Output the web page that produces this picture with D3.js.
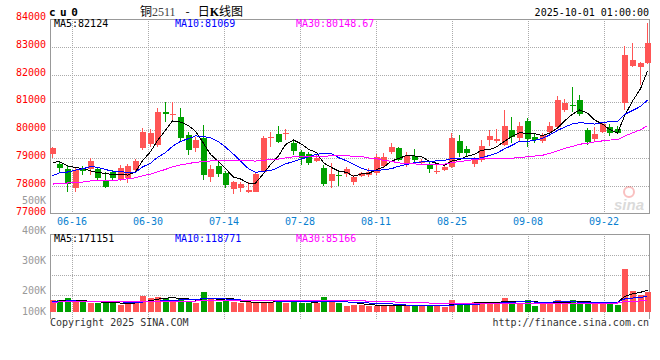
<!DOCTYPE html>
<html>
<head>
<meta charset="utf-8">
<script src="https://cdn.jsdelivr.net/npm/d3@7"></script>
<style>
body{margin:0;background:#fff}
svg text{font-family:"DejaVu Sans Mono",monospace;font-size:10px}
</style>
</head>
<body>
<svg id="chart" width="660" height="360"></svg>
<script>
// cu2511 daily bars, 2025-06-11 .. 2025-09-30
const open  = [79130,78770,78600,77900,78630,78600,78600,78170,78510,78210,78270,78570,79350,79500,79470,80670,80550,80470,79830,79350,
               79730,78330,78720,78450,77880,77910,77790,77790,78510,79740,79850,79860,79550,79230,79130,78890,78650,78170,78390,78410,
               78140,78360,78380,78470,78710,79200,79340,78780,79070,78800,78740,78500,78560,78680,79620,79310,78780,78920,79640,79620,
               79460,80000,79700,80330,79740,79620,79940,80120,80720,80900,81080,80000,79670,79940,80100,80030,80990,82310,82280,82400]
const high  = [79400,78870,78750,78650,78720,78990,78690,78480,78570,78750,78770,78960,80090,80030,80790,81000,81000,80790,79950,79770,
               80190,78750,78870,78530,78170,78120,78120,78510,79800,79920,80150,80030,79620,79290,79200,79110,78750,78810,78480,78690,
               78380,78500,78620,79140,79160,79550,79400,79220,79310,78950,78860,78740,78740,79880,79820,79430,79020,79640,80000,80030,
               80720,80460,80300,80450,79910,79910,80300,81230,81110,81540,81260,80060,80100,80300,80220,80150,83030,83150,82460,83870]
const low   = [78990,78500,77790,77790,78390,78390,78210,77900,78210,78170,78090,78530,79290,79410,79410,80310,80310,79590,79110,79230,
               78210,78150,78330,77910,77690,77790,77730,77760,78480,79410,79530,79650,79110,78750,78750,78870,78000,77910,78000,78330,
               78020,78300,78300,78380,78660,79140,78900,78680,78860,78740,78470,78420,78540,78620,79040,79070,78660,78860,79430,79550,
               79430,79550,79620,79400,79550,79550,79880,80060,80660,80660,80510,79460,79580,79910,79790,79860,80720,82280,81620,82380]
const close = [79350,78630,78050,78570,78530,78890,78290,77970,78290,78650,78710,78890,79950,79910,80670,80570,80570,79730,79290,79650,
               78390,78600,78410,78030,78120,78050,77850,78420,79730,79770,79590,79890,79250,78990,78830,79010,78050,78410,78340,78600,
               78300,78470,78500,79020,79040,79400,78920,79070,78920,78900,78600,78540,78680,79700,79190,79160,78920,79430,79790,79690,
               80150,79760,80150,79670,79640,79820,80150,81080,80960,80870,80570,79580,79860,80210,79910,79880,82700,82520,82430,83150]
const volume = [88000,88000,106000,74000,74000,70000,70000,70000,74000,54000,62000,80000,128000,106000,114000,106000,96000,106000,80000,66000,
                160000,106000,80000,88000,74000,66000,74000,74000,80000,80000,88000,70000,88000,70000,70000,70000,114000,80000,70000,48000,
                56000,56000,48000,48000,48000,48000,48000,48000,48000,48000,48000,48000,40000,88000,70000,64000,80000,70000,80000,64000,
                106000,80000,70000,96000,48000,64000,70000,96000,70000,88000,60000,80000,70000,70000,70000,56000,340000,168000,134000,155000]
// earlier sessions, only used to start the moving averages (estimated from the MA lines at the left edge)
const prevClose = [77600,77850,78100,77950,77700,77900,78150,78050,77800,77760,
                   77700,77900,78050,78200,77950,77800,77650,77900,78050,78030,
                   77600,77750,77900,78050,78100,78500,78800,78900,78650]
const prevVolume = [72000,68000,80000,75000,70000,66000,78000,74000,71000,69000,
                    77000,73000,70000,75000,68000,72000,76000,70000,74000,79000,
                    76000,82000,78000,74000,80000,86000,82000,78000,84000]

const tickLabels = ["06-16","06-30","07-14","07-28","08-11","08-25","09-08","09-22"]
const priceTicks = [84000,83000,82000,81000,80000,79000,78000,77000]
const volTicks = [500000,400000,300000,200000,100000]
const priceMA = ["82124","81069","80148.67"]
const volMA = ["171151","118771","85166"]
const maNames = ["MA5","MA10","MA30"]
const maDays = [5,10,30]
const maColors = ["#000","#0000ff","#ff00ff"]

const days = d3.utcDays(new Date(Date.UTC(2025,5,11)), new Date(Date.UTC(2025,9,1)))
	.filter(d => d.getUTCDay()%6!==0)

const left = 50, right = 649
const pTop = 19, pBot = 213.5
const vTop = 234, vBot = 311.5, vFrameBot = 319
const up = "#ff5555", down = "#00a000", gridC = "#aaa", frameC = "#999"

const svg = d3.select("#chart")

const x = d3.scaleBand().domain(d3.range(days.length)).range([left-1, right+1]).paddingInner(0.22)
const cx = i => Math.round(x(i)+x.bandwidth()/2)
const y = d3.scaleLinear().domain([77000,84000]).range([pBot,pTop])
const yv = d3.scaleLinear().domain([0,620000]).range([vBot,vTop])
const yvLabel = d3.scaleLinear().domain([100000,500000]).range([323.5,203.5])
const gx = d3.scalePoint().domain(tickLabels).range([left+22, left+22+76*(tickLabels.length-1)])

function ma(series, prev, n){
	const all = prev.concat(series)
	return series.map((_, i)=> d3.mean(all.slice(i+prev.length-n+1, i+prev.length+1)))
}

// grid
const grid = svg.append("g").attr("stroke", gridC).attr("stroke-dasharray", "1,1").attr("shape-rendering","crispEdges")
grid.selectAll(".gv").data(tickLabels).join("line")
	.attr("x1", d=>Math.round(gx(d))+0.5).attr("x2", d=>Math.round(gx(d))+0.5)
	.attr("y1", pTop).attr("y2", pBot)
grid.selectAll(".gv2").data(tickLabels).join("line")
	.attr("x1", d=>Math.round(gx(d))+0.5).attr("x2", d=>Math.round(gx(d))+0.5)
	.attr("y1", vTop).attr("y2", vFrameBot)
grid.selectAll(".gh").data(priceTicks.slice(1,-1)).join("line")
	.attr("x1", left).attr("x2", right)
	.attr("y1", d=>Math.round(y(d))+0.5).attr("y2", d=>Math.round(y(d))+0.5)
grid.selectAll(".gh2").data([1,2,3]).join("line")
	.attr("x1", left).attr("x2", right)
	.attr("y1", d=>vTop+1.5+d*20).attr("y2", d=>vTop+1.5+d*20)

// frames
const frame = svg.append("g").attr("stroke", frameC).attr("fill","none").attr("shape-rendering","crispEdges")
frame.append("path").attr("d", `M${left+0.5},${pTop}V${pBot}H${right+0.5}V${pTop}H${left+0.5}`)
frame.append("path").attr("d", `M${left+0.5},${vFrameBot}V${vTop+0.5}H${right+0.5}V${vFrameBot}`)

// candles
const candles = svg.append("g").attr("shape-rendering","crispEdges")
candles.selectAll(".wick").data(days).join("rect")
	.attr("x", (d,i)=>cx(i)).attr("width", 1)
	.attr("y", (d,i)=>Math.round(y(high[i]))).attr("height", (d,i)=>Math.max(1, Math.round(y(low[i]))-Math.round(y(high[i]))))
	.attr("fill", (d,i)=>close[i]>=open[i]?up:down)
candles.selectAll(".body").data(days).join("rect")
	.attr("x", (d,i)=>cx(i)-2).attr("width", 6)
	.attr("y", (d,i)=>Math.round(y(Math.max(open[i],close[i]))))
	.attr("height", (d,i)=>Math.max(1, Math.round(y(Math.min(open[i],close[i])))-Math.round(y(Math.max(open[i],close[i])))))
	.attr("fill", (d,i)=>close[i]>=open[i]?up:down)

// volume bars
svg.append("g").attr("shape-rendering","crispEdges")
	.selectAll("rect").data(days).join("rect")
	.attr("x", (d,i)=>cx(i)-2).attr("width", 6)
	.attr("y", (d,i)=>Math.round(yv(volume[i])))
	.attr("height", (d,i)=>vBot-Math.round(yv(volume[i])))
	.attr("fill", (d,i)=>close[i]>=open[i]?up:down)

// moving averages
maDays.forEach((n, k)=>{
	const pm = ma(close, prevClose, n)
	const vm = ma(volume, prevVolume, n)
	svg.append("path").datum(pm)
		.attr("d", d3.line().x((d,i)=>cx(i)+0.5).y(d=>y(d)))
		.attr("fill","none").attr("stroke", maColors[k]).attr("stroke-width",1).attr("shape-rendering","crispEdges")
	svg.append("path").datum(vm)
		.attr("d", d3.line().x((d,i)=>cx(i)+0.5).y(d=>yv(d)))
		.attr("fill","none").attr("stroke", maColors[k]).attr("stroke-width",1).attr("shape-rendering","crispEdges")
	svg.append("text").attr("x", left+4+121*k).attr("y", 27).attr("fill", maColors[k])
		.text(maNames[k]+":"+priceMA[k])
	svg.append("text").attr("x", left+4+121*k).attr("y", 242).attr("fill", maColors[k])
		.text(maNames[k]+":"+volMA[k])
})

// axes labels
svg.append("g").selectAll("text").data(priceTicks).join("text")
	.attr("x", 46).attr("y", d=>y(d)+1).attr("text-anchor","end").attr("fill","#f00")
	.text(d=>d)
svg.append("g").selectAll("text").data(volTicks).join("text")
	.attr("x", 46).attr("y", d=>Math.min(314.5, yvLabel(d))).attr("text-anchor","end").attr("fill","#999")
	.text(d=>d/1000+"K")
svg.append("g").selectAll("text").data(tickLabels).join("text")
	.attr("x", d=>gx(d)).attr("y", 225).attr("text-anchor","middle").attr("fill","#0a7fd0")
	.text(d=>d)

// titles
svg.append("text").attr("x", 49).attr("y", 16)
	.style("font-size","11px").style("font-weight","bold").style("letter-spacing","4.5px").text("cu0")
const title = svg.append("text").attr("x", 140).attr("y", 16).style("font-size","12px")
	.style("font-family","'Noto Sans CJK SC',sans-serif")
title.append("tspan").text("铜")
title.append("tspan").attr("fill","#444").style("font-family","'Liberation Serif',serif").text("2511")
title.append("tspan").attr("dx", 10).text("-")
title.append("tspan").attr("dx", 8).text("日")
title.append("tspan").style("font-weight","bold").style("font-family","'Liberation Serif',serif").text("K")
title.append("tspan").text("线图")
svg.append("text").attr("x", right).attr("y", 16).attr("text-anchor","end").text("2025-10-01 01:00:00")
svg.append("text").attr("x", left).attr("y", 326).attr("fill","#333").text("Copyright 2025 SINA.COM")
svg.append("text").attr("x", right).attr("y", 326).attr("text-anchor","end").attr("fill","#333").text("http://finance.sina.com.cn")

// watermark
const wm = svg.append("g").attr("opacity", 0.3)
wm.append("circle").attr("cx", 629).attr("cy", 192).attr("r", 5).attr("fill","none").attr("stroke","#e33").attr("stroke-width",2)
wm.append("text").attr("x", 614).attr("y", 210).attr("fill","#888")
	.style("font-family","'Liberation Sans',sans-serif").style("font-size","15px").style("font-style","italic").style("font-weight","bold")
	.text("sina")
</script>
</body>
</html>
